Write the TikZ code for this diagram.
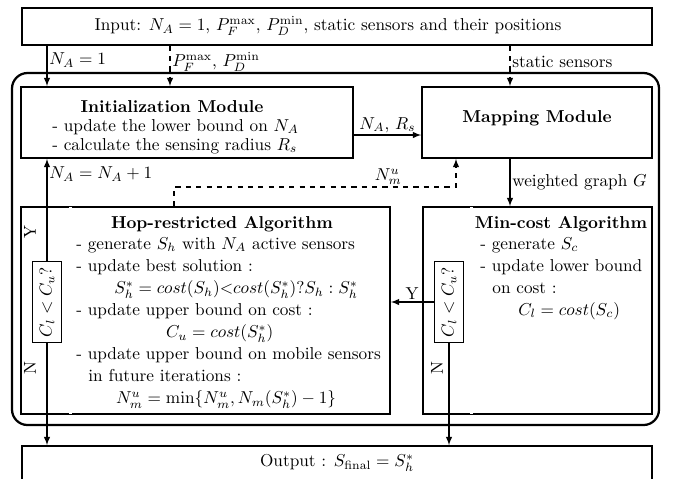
\documentclass[tikz,border=0pt]{standalone}
\usepackage{amsmath}
\usetikzlibrary{fit}
\begin{document}
\begin{tikzpicture}[x=0.58pt, y=-0.58pt, >=latex,
    box/.style={draw, line width=0.9pt, inner sep=0pt},
    frame/.style={draw, line width=1.3pt, inner sep=0pt, rounded corners=9pt},
    check/.style={draw, line width=0.9pt, rotate=90, minimum width=47pt, minimum height=17pt, inner sep=1pt},
    flow/.style={->, line width=0.7pt},
    dflow/.style={->, line width=0.7pt, dashed},
    sep/.style={double, double distance=1.2pt, line width=0.35pt, black!70},
    body/.style={anchor=north west, align=left, inner sep=0pt, font=\fontsize{10}{12.8}\selectfont},
    lbl/.style={inner sep=1pt}]

  \clip (0,0) rectangle (673,478);

  % boxes
  \node (input) [box, fit={(22,8) (652,45)}] {};
  \node (frm) [frame, fit={(12,73) (659,425)}] {};
  \node (init) [box, fit={(21,87) (353,158)}] {};
  \node (map) [box, fit={(422,87) (652,158)}] {};
  \node (hop) [box, fit={(21,207) (390,414)}] {};
  \node (mincost) [box, fit={(423,207) (652,414)}] {};
  \node (output) [box, fit={(22,446) (652,495)}] {};

  \draw[sep] (70.5,207) -- (70.5,414);
  \draw[sep] (471.5,207) -- (471.5,414);

  \node (chkh) [check] at (47,302) {$C_l<C_u?$};
  \node (chkc) [check] at (449,302) {$C_l<C_u?$};

  % texts
  \node (intxt) [inner sep=1pt] at (328,26) {Input: $N_A=1$, $P_F^{\max}$, $P_D^{\min}$, static sensors and their positions};
  \node (inittitle) at (172,107) {\textbf{Initialization Module}};
  \node (inittxt) [body, font=\fontsize{10}{11}\selectfont] at (52,119) {- update the lower bound on $N_A$\\- calculate the sensing radius $R_s$};
  \node (maptitle) at (537,118) {\textbf{Mapping Module}};
  \node (hoptitle) at (222,224) {\textbf{Hop-restricted Algorithm}};
  \node (hoptxt) [body] at (76,237) {- generate $S_h$ with $N_A$ active sensors\\
    - update best solution :\\
    \hspace{2.2em}$S_h^*=cost(S_h){<}cost(S_h^*)?S_h:S_h^*$\\
    - update upper bound on cost :\\
    \hspace{5.2em}$C_u=cost(S_h^*)$\\
    - update upper bound on mobile sensors\\
    \hspace{0.7em}in future iterations :\\
    \hspace{2.3em}$N_m^u=\min\{N_m^u,N_m(S_h^*)-1\}$};
  \node (mctitle) at (561,224) {\textbf{Min-cost Algorithm}};
  \node (mctxt) [body] at (480,237) {- generate $S_c$\\
    - update lower bound\\
    \hspace{0.7em}on cost :\\
    \hspace{2.2em}$C_l=cost(S_c)$};
  \node (outtxt) at (337,463) {Output : $S_{\text{final}}=S_h^*$};

  % connectors
  \draw[flow] (input.south -| 47,0) -- node[lbl, pos=0.36, right] {$N_A=1$} (init.north -| 47,0);
  \draw[dflow] (input.south -| 170,0) -- node[lbl, pos=0.4, right] {$P_F^{\max}$, $P_D^{\min}$} (init.north -| 170,0);
  \draw[dflow] (input.south -| 510,0) -- node[lbl, pos=0.4, right] {static sensors} (map.north -| 510,0);
  \draw[flow] (init.east |- 0,135) -- node[lbl, above] {$N_A$, $R_s$} (map.west |- 0,135);
  \draw[flow] (map.south -| 510,0) -- node[lbl, right] {weighted graph $G$} (mincost.north -| 510,0);
  \draw[dflow] (hop.north -| 174,0) -- (174,187) -- node[lbl, pos=0.76, above] {$N_m^u$} (456,187) -- (map.south -| 456,0);

  \draw[flow] (chkh.east) -- node[lbl, pos=0.85, right] {$N_A=N_A+1$} (init.south -| chkh.east);
  \draw[flow] (chkh.west) -- (output.north -| chkh.west);
  \draw[flow] (chkc.north) -- node[lbl, above] {Y} (hop.east |- chkc.north);
  \draw[flow] (chkc.west) -- (output.north -| chkc.west);

  \node (yh) [rotate=90] at (30,232) {Y};
  \node (nh) [rotate=90] at (30,368) {N};
  \node (nc) [rotate=90] at (437,368) {N};
\end{tikzpicture}
\end{document}
